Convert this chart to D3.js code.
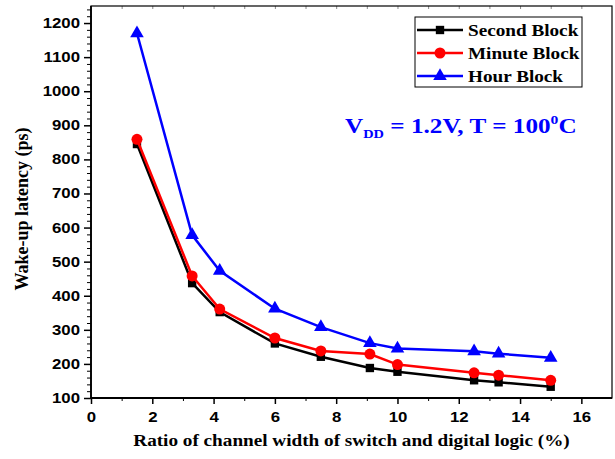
<!DOCTYPE html>
<html>
<head>
<meta charset="utf-8">
<script src="https://cdn.jsdelivr.net/npm/d3@7"></script>
<style>
  body { margin: 0; background: #fff; }
  #chart { width: 615px; height: 459px; }
</style>
</head>
<body>
<div id="chart"></div>
<script>
// channel width ratio (%)
var ratio = [1.5, 3.3, 4.2, 6, 7.5, 9.1, 10, 12.5, 13.3, 15];
var secondBlock = [845, 437, 352, 260, 221, 188, 177, 152, 146, 133];
var minuteBlock = [859, 458, 361, 276, 238, 229, 198, 174, 167, 152];
var hourBlock = [1170, 578, 473, 362, 308, 261, 245, 237, 230, 218];
var xTicks = [0, 2, 4, 6, 8, 10, 12, 14, 16];
var yTicks = [100, 200, 300, 400, 500, 600, 700, 800, 900, 1000, 1100, 1200];

var series = [
  { name: "Second Block", values: secondBlock, color: "#000000", shape: "square" },
  { name: "Minute Block", values: minuteBlock, color: "#ff0000", shape: "circle" },
  { name: "Hour Block", values: hourBlock, color: "#0000ff", shape: "triangle" }
];

var width = 615, height = 459;
var margin = { top: 6, right: 3, bottom: 61, left: 91 };
var serif = "'Liberation Serif', 'Times New Roman', serif";
var sans = "'Liberation Sans', Arial, sans-serif";
var stretchX = 1.2; // the original picture text is a bit wide

var svg = d3.select("#chart").append("svg")
  .attr("width", width)
  .attr("height", height);

var x = d3.scaleLinear().domain([0, 17]).range([margin.left, width - margin.right]);
var y = d3.scaleLinear().domain([100, 1250]).range([height - margin.bottom, margin.top]);

// widen a text around its own anchor x
function widen(sel) {
  sel.each(function () {
    var t = d3.select(this);
    var ax = +t.attr("x") || 0;
    var ay = +t.attr("y") || 0;
    t.attr("transform", "translate(" + ax + "," + ay + ") scale(" + stretchX + ",1) translate(" + (-ax) + "," + (-ay) + ")");
  });
}

// minor ticks
var xMinor = d3.range(1, 17, 2);
var yMinor = d3.range(120, 1250, 20).filter(function (v) { return v % 100 != 0; });

svg.append("g")
  .attr("transform", "translate(0," + y(100) + ")")
  .call(d3.axisBottom(x).tickValues(xMinor).tickSize(3).tickFormat(""))
  .call(function (g) { g.select(".domain").remove(); });

svg.append("g")
  .attr("transform", "translate(" + x(0) + ",0)")
  .call(d3.axisLeft(y).tickValues(yMinor).tickSize(4).tickFormat(""))
  .call(function (g) { g.select(".domain").remove(); });

// top inner ticks (light)
svg.append("g")
  .attr("transform", "translate(0," + y(1250) + ")")
  .call(d3.axisBottom(x).tickValues(d3.range(1, 17, 1)).tickSize(3).tickFormat(""))
  .call(function (g) {
    g.select(".domain").remove();
    g.selectAll("line").attr("stroke", "#888");
  });

var xAxis = svg.append("g")
  .attr("transform", "translate(0," + y(100) + ")")
  .call(d3.axisBottom(x).tickValues(xTicks).tickSize(6).tickPadding(8).tickFormat(d3.format("d")));

var yAxis = svg.append("g")
  .attr("transform", "translate(" + x(0) + ",0)")
  .call(d3.axisLeft(y).tickValues(yTicks).tickSize(7).tickPadding(4).tickFormat(d3.format("d")));

[xAxis, yAxis].forEach(function (g) {
  g.select(".domain").remove();
  g.selectAll("line").attr("stroke-width", 1.5);
  g.selectAll("text")
    .attr("font-family", sans)
    .attr("font-weight", "bold")
    .attr("font-size", "14px")
    .attr("fill", "#000")
    .call(widen);
});

// frame
svg.append("rect")
  .attr("x", x(0))
  .attr("y", y(1250))
  .attr("width", x(17) - x(0))
  .attr("height", y(100) - y(1250))
  .attr("fill", "none")
  .attr("stroke", "#000")
  .attr("stroke-width", 1.2);
svg.append("path")
  .attr("d", "M" + x(0) + "," + y(1250) + "V" + y(100) + "H" + x(17))
  .attr("fill", "none")
  .attr("stroke", "#000")
  .attr("stroke-width", 1.8);

var line = d3.line()
  .x(function (d, i) { return x(ratio[i]); })
  .y(function (d) { return y(d); });

var symbolFor = {
  square: d3.symbol().type(d3.symbolSquare).size(70),
  circle: d3.symbol().type(d3.symbolCircle).size(95),
  triangle: d3.symbol().type(d3.symbolTriangle).size(80)
};

series.forEach(function (s) {
  svg.append("path")
    .datum(s.values)
    .attr("d", line)
    .attr("fill", "none")
    .attr("stroke", s.color)
    .attr("stroke-width", 2.5);
  svg.append("g").selectAll("path")
    .data(s.values)
    .join("path")
    .attr("d", symbolFor[s.shape])
    .attr("transform", function (d, i) { return "translate(" + x(ratio[i]) + "," + y(d) + ")"; })
    .attr("fill", s.color);
});

// legend
var legend = svg.append("g").attr("transform", "translate(415,17)");
legend.append("rect")
  .attr("width", 167)
  .attr("height", 70)
  .attr("fill", "#fff")
  .attr("stroke", "#000")
  .attr("stroke-width", 1);
series.forEach(function (s, i) {
  var row = legend.append("g").attr("transform", "translate(0," + (13 + i * 23) + ")");
  row.append("line")
    .attr("x1", 2).attr("x2", 48)
    .attr("stroke", s.color)
    .attr("stroke-width", 2.5);
  row.append("path")
    .attr("d", symbolFor[s.shape])
    .attr("transform", "translate(25,0)")
    .attr("fill", s.color);
  row.append("text")
    .attr("x", 53)
    .attr("y", 5.5)
    .attr("font-family", serif)
    .attr("font-weight", "bold")
    .attr("font-size", "16px")
    .text(s.name)
    .call(widen);
});

// condition annotation
var note = svg.append("text")
  .attr("x", 345)
  .attr("y", 133)
  .attr("font-family", serif)
  .attr("font-weight", "bold")
  .attr("font-size", "21px")
  .attr("fill", "#0000ff");
note.append("tspan").text("V");
note.append("tspan").attr("font-size", "12px").attr("dy", 5).text("DD");
note.append("tspan").attr("dy", -5).text(" = 1.2V, T = 100");
note.append("tspan").attr("font-size", "13px").attr("dy", -9).text("0");
note.append("tspan").attr("dy", 9).text("C");
note.call(widen);

// axis titles
svg.append("text")
  .attr("x", (x(0) + x(17)) / 2)
  .attr("y", 446)
  .attr("text-anchor", "middle")
  .attr("font-family", serif)
  .attr("font-weight", "bold")
  .attr("font-size", "16px")
  .text("Ratio of channel width of switch and digital logic (%)")
  .call(widen);

svg.append("text")
  .attr("transform", "translate(28,209) rotate(-90)")
  .attr("text-anchor", "middle")
  .attr("font-family", serif)
  .attr("font-weight", "bold")
  .attr("font-size", "18px")
  .text("Wake-up latency (ps)");
</script>
</body>
</html>
